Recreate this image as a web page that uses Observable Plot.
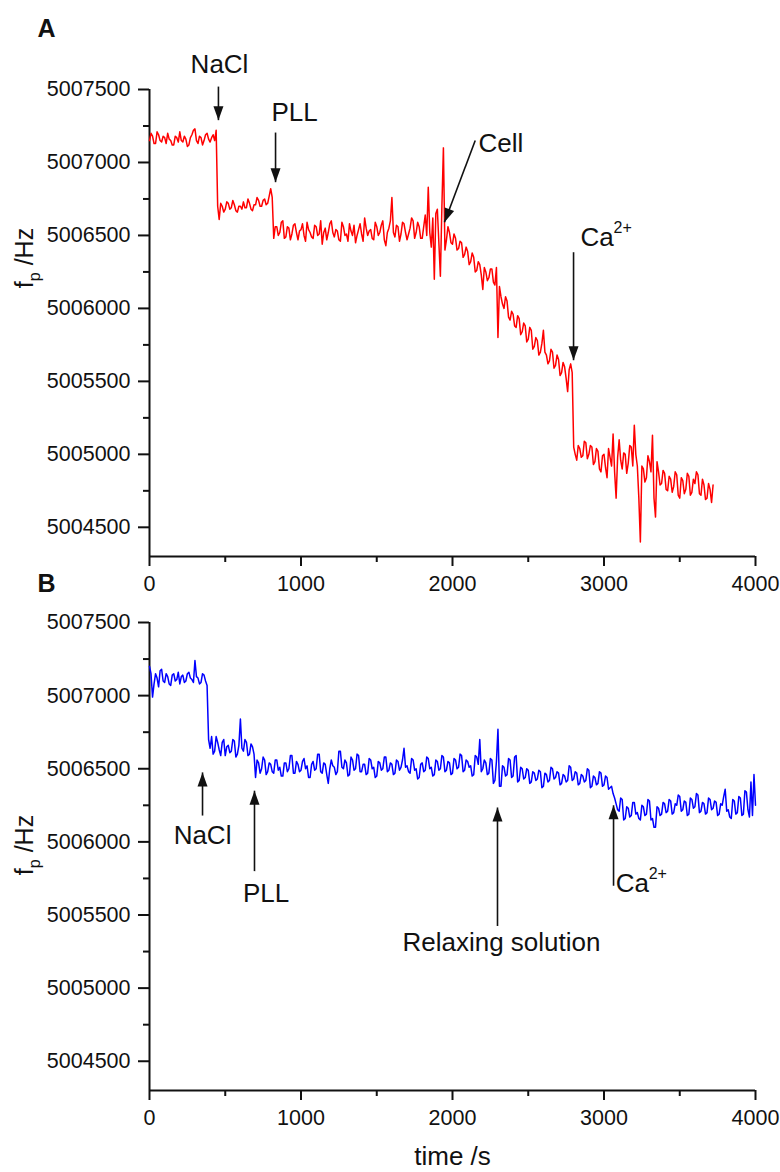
<!DOCTYPE html>
<html>
<head>
<meta charset="utf-8">
<script src="https://cdn.jsdelivr.net/npm/d3@7"></script>
<script src="https://cdn.jsdelivr.net/npm/@observablehq/plot@0.6"></script>
<style>
  body { margin: 0; background: #fff; }
  #chart { width: 780px; }
  #chart svg { display: block; }
</style>
</head>
<body>
<div id="chart"></div>
<script>
// ---------- data ----------
const stepA = 10; // s between samples, panel A (0 … 3720 s)
const stepB = 10; // s between samples, panel B (0 … 4000 s)

const freqA = [
  5007150,5007200,5007180,5007130,5007130,5007210,5007190,5007150,5007140,5007180,5007170,5007130,5007200,5007160,5007150,5007120,5007120,5007180,5007170,5007140,
  5007210,5007150,5007140,5007180,5007160,5007110,5007120,5007170,5007190,5007220,5007230,5007150,5007130,5007180,5007170,5007120,5007150,5007190,5007200,5007160,
  5007140,5007170,5007190,5007150,5007220,5006700,5006610,5006720,5006700,5006660,5006680,5006730,5006720,5006680,5006690,5006740,5006710,5006670,5006660,5006700,
  5006700,5006680,5006730,5006690,5006690,5006750,5006720,5006680,5006670,5006710,5006710,5006760,5006740,5006700,5006700,5006740,5006750,5006710,5006720,5006770,
  5006820,5006760,5006480,5006560,5006560,5006500,5006520,5006590,5006600,5006480,5006490,5006560,5006550,5006470,5006510,5006570,5006580,5006520,5006470,5006530,
  5006540,5006580,5006500,5006460,5006590,5006540,5006520,5006490,5006480,5006570,5006560,5006500,5006510,5006600,5006440,5006520,5006550,5006470,5006520,5006580,
  5006600,5006520,5006490,5006540,5006530,5006470,5006460,5006590,5006560,5006500,5006510,5006460,5006580,5006530,5006500,5006570,5006450,5006500,5006540,5006580,
  5006510,5006460,5006620,5006550,5006500,5006530,5006540,5006480,5006470,5006590,5006560,5006500,5006520,5006570,5006600,5006470,5006430,5006520,5006550,5006600,
  5006760,5006520,5006490,5006570,5006560,5006460,5006510,5006590,5006580,5006520,5006470,5006510,5006550,5006620,5006600,5006480,5006520,5006590,5006560,5006480,
  5006480,5006560,5006640,5006500,5006830,5006520,5006420,5006620,5006200,5006650,5006680,5006450,5006220,5006700,5007100,5006400,5006470,5006560,5006520,5006450,
  5006440,5006510,5006480,5006400,5006410,5006460,5006450,5006350,5006370,5006420,5006390,5006300,5006320,5006380,5006350,5006250,5006260,5006320,5006300,5006230,
  5006130,5006280,5006250,5006190,5006210,5006270,5006270,5006180,5006160,5006280,5005800,5006150,5006080,5006030,5006000,5006080,5006050,5005940,5005920,5005980,
  5005960,5005880,5005870,5005950,5005930,5005820,5005840,5005900,5005880,5005770,5005790,5005870,5005850,5005720,5005740,5005800,5005780,5005680,5005700,5005760,
  5005850,5005700,5005680,5005620,5005640,5005720,5005700,5005590,5005610,5005680,5005650,5005540,5005560,5005630,5005600,5005520,5005430,5005580,5005620,5005560,
  5005050,5005000,5004960,5005060,5005040,5004980,5004990,5005090,5005080,5004970,5005000,5005060,5005050,5004930,5004950,5005040,5005020,5004900,5004880,5004990,
  5005000,5004910,5004840,5005040,5004980,5004920,5005140,5004880,5004700,5004980,5005100,5004960,5004900,5005010,5005000,5004870,5004940,5005060,5005050,5004920,
  5005200,5005000,5004920,5004700,5004400,5004920,5004900,5004810,5004840,5004990,5004950,5004880,5005130,5004700,5004570,5004950,5004880,5004790,5004800,5004890,
  5004870,5004760,5004750,5004850,5004830,5004740,5004780,5004880,5004860,5004720,5004700,5004840,5004820,5004730,5004760,5004870,5004850,5004720,5004740,5004830,
  5004800,5004880,5004860,5004730,5004720,5004830,5004790,5004690,5004700,5004800,5004760,5004670,5004790
];

const freqB = [
  5007200,5007150,5006990,5007080,5007150,5007120,5007060,5007170,5007180,5007100,5007090,5007150,5007130,5007080,5007070,5007140,5007150,5007100,5007110,5007160,
  5007080,5007130,5007140,5007090,5007100,5007150,5007160,5007120,5007110,5007090,5007240,5007130,5007120,5007080,5007090,5007150,5007140,5007100,5007070,5006700,
  5006640,5006720,5006600,5006620,5006720,5006680,5006630,5006590,5006680,5006700,5006590,5006650,5006660,5006610,5006620,5006700,5006690,5006580,5006600,5006660,
  5006840,5006640,5006620,5006700,5006680,5006590,5006600,5006670,5006650,5006600,5006440,5006560,5006540,5006470,5006500,5006580,5006560,5006460,5006480,5006540,
  5006530,5006480,5006470,5006560,5006560,5006490,5006510,5006450,5006450,5006540,5006540,5006480,5006500,5006590,5006590,5006470,5006470,5006550,5006530,5006480,
  5006490,5006550,5006570,5006500,5006520,5006440,5006440,5006530,5006550,5006490,5006500,5006600,5006600,5006480,5006470,5006540,5006530,5006460,5006400,5006500,
  5006560,5006520,5006510,5006460,5006480,5006620,5006620,5006510,5006500,5006560,5006540,5006450,5006460,5006580,5006560,5006490,5006500,5006600,5006590,5006480,
  5006480,5006530,5006530,5006460,5006470,5006570,5006560,5006500,5006510,5006440,5006450,5006550,5006540,5006490,5006500,5006580,5006580,5006480,5006490,5006540,
  5006530,5006460,5006470,5006560,5006550,5006490,5006510,5006560,5006640,5006510,5006520,5006480,5006470,5006570,5006560,5006490,5006500,5006430,5006440,5006530,
  5006540,5006480,5006490,5006580,5006570,5006500,5006510,5006450,5006460,5006560,5006550,5006490,5006500,5006590,5006580,5006480,5006490,5006550,5006540,5006460,
  5006470,5006570,5006560,5006500,5006510,5006600,5006590,5006480,5006490,5006560,5006550,5006510,5006520,5006450,5006460,5006590,5006580,5006530,5006700,5006480,
  5006500,5006560,5006540,5006460,5006470,5006570,5006560,5006400,5006420,5006550,5006770,5006380,5006380,5006520,5006510,5006450,5006460,5006570,5006560,5006440,
  5006450,5006580,5006590,5006410,5006420,5006510,5006500,5006430,5006440,5006500,5006490,5006400,5006410,5006480,5006470,5006420,5006430,5006490,5006480,5006370,
  5006380,5006470,5006460,5006410,5006420,5006510,5006500,5006430,5006440,5006480,5006470,5006390,5006400,5006460,5006450,5006410,5006420,5006520,5006510,5006420,
  5006430,5006480,5006470,5006390,5006400,5006460,5006450,5006410,5006420,5006500,5006490,5006370,5006380,5006450,5006440,5006390,5006400,5006480,5006470,5006380,
  5006390,5006450,5006440,5006360,5006370,5006380,5006330,5006300,5006260,5006220,5006210,5006300,5006290,5006150,5006160,5006240,5006230,5006170,5006180,5006270,
  5006270,5006190,5006200,5006160,5006150,5006250,5006240,5006180,5006190,5006290,5006280,5006150,5006160,5006100,5006100,5006240,5006230,5006180,5006190,5006270,
  5006260,5006200,5006210,5006290,5006280,5006190,5006200,5006260,5006250,5006320,5006310,5006210,5006220,5006280,5006270,5006180,5006190,5006300,5006290,5006230,
  5006240,5006330,5006320,5006200,5006210,5006270,5006260,5006190,5006200,5006300,5006290,5006220,5006230,5006280,5006270,5006180,5006190,5006260,5006250,5006310,
  5006360,5006210,5006220,5006170,5006160,5006290,5006280,5006190,5006200,5006310,5006300,5006180,5006190,5006350,5006340,5006220,5006170,5006410,5006180,5006460,
  5006250
];

const xDomain = [0, 4000];
const yDomain = [5004300, 5007500];
const xTicks = [0, 1000, 2000, 3000, 4000];
const xMinorTicks = [500, 1500, 2500, 3500];
const yTicks = [5004500, 5005000, 5005500, 5006000, 5006500, 5007000, 5007500];
const yMinorTicks = [5004750, 5005250, 5005750, 5006250, 5006750, 5007250];

const panelLabels = ["A", "B"];
const xTitle = "time /s";

// annotation arrows: from (t0,f0) to the tip (t1,f1)
const arrowsA = [
  {t0: 455, f0: 5007520, t1: 455, f1: 5007290},
  {t0: 832, f0: 5007205, t1: 832, f1: 5006865},
  {t0: 2150, f0: 5007150, t1: 1947, f1: 5006590},
  {t0: 2799, f0: 5006385, t1: 2799, f1: 5005645}
];
const labelsA = [
  {text: "NaCl", t: 462, f: 5007671, anchor: "middle"},
  {text: "PLL", t: 958, f: 5007342, anchor: "middle"},
  {text: "Cell", t: 2172, f: 5007130, anchor: "start"},
  {text: "Ca", t: 2845, f: 5006486, anchor: "start", sup: "2+"}
];

const arrowsB = [
  {t0: 350, f0: 5006180, t1: 350, f1: 5006475},
  {t0: 693, f0: 5005800, t1: 693, f1: 5006350},
  {t0: 2297, f0: 5005425, t1: 2297, f1: 5006235},
  {t0: 3063, f0: 5005700, t1: 3063, f1: 5006250}
];
const labelsB = [
  {text: "NaCl", t: 350, f: 5006040, anchor: "middle"},
  {text: "PLL", t: 770, f: 5005645, anchor: "middle"},
  {text: "Relaxing solution", t: 2323, f: 5005308, anchor: "middle"},
  {text: "Ca", t: 3077, f: 5005715, anchor: "start", sup: "2+"}
];

// ---------- rendering ----------
const fontFamily = '"Liberation Sans", Arial, Helvetica, sans-serif';
const ink = "#111";
const W = 780;

const dataA = freqA.map((f, i) => ({t: i * stepA, f}));
const dataB = freqB.map((f, i) => ({t: i * stepB, f}));

function headSymbol(dx, dy) {
  const len = Math.hypot(dx, dy) || 1;
  const ux = dx / len, uy = dy / len;
  const L = 14, H = 5;
  return {
    draw(ctx) {
      ctx.moveTo(0, 0);
      ctx.lineTo(-ux * L - uy * H, -uy * L + ux * H);
      ctx.lineTo(-ux * L + uy * H, -uy * L - ux * H);
      ctx.closePath();
    }
  };
}

function buildPanel({data, color, arrows, labels, height, marginTop, marginBottom, extra}) {
  const base = {
    width: W,
    height,
    marginLeft: 149,
    marginRight: 25,
    marginTop,
    marginBottom,
    style: {fontFamily, fontSize: "21.5px", color: ink, background: "transparent", overflow: "visible"},
    x: {domain: xDomain, label: null},
    y: {domain: yDomain, label: null}
  };
  const probe = Plot.plot({...base, marks: []});
  const sx = probe.scale("x"), sy = probe.scale("y");

  const marks = [
    Plot.axisY({ticks: yTicks, tickSize: 11, tickPadding: 8, tickFormat: d3.format("d"), strokeWidth: 2, label: null, fill: ink}),
    Plot.axisY({ticks: yMinorTicks, tickSize: 6, tickFormat: () => "", strokeWidth: 2, label: null}),
    Plot.axisX({ticks: xTicks, tickSize: 10, tickPadding: 9, tickFormat: d3.format("d"), strokeWidth: 2, label: null, fill: ink}),
    Plot.axisX({ticks: xMinorTicks, tickSize: 6, tickFormat: () => "", strokeWidth: 2, label: null}),
    Plot.ruleX([xDomain[0]], {stroke: ink, strokeWidth: 2}),
    Plot.ruleY([yDomain[0]], {stroke: ink, strokeWidth: 2}),
    Plot.line(data, {x: "t", y: "f", stroke: color, strokeWidth: 1.5}),
    Plot.link(arrows, {x1: "t0", y1: "f0", x2: "t1", y2: "f1", stroke: ink, strokeWidth: 1.6})
  ];
  for (const a of arrows) {
    const dx = sx.apply(a.t1) - sx.apply(a.t0);
    const dy = sy.apply(a.f1) - sy.apply(a.f0);
    marks.push(Plot.dot([a], {x: "t1", y: "f1", r: 6, symbol: headSymbol(dx, dy), fill: ink, stroke: "none"}));
  }
  for (const anchor of ["middle", "start"]) {
    marks.push(Plot.text(labels.filter(d => d.anchor === anchor), {
      x: "t", y: "f", text: "text", textAnchor: anchor, lineAnchor: "middle",
      fontSize: 26, fill: ink
    }));
  }
  marks.push(Plot.text(labels.filter(d => d.sup), {
    x: "t", y: "f", text: "sup", textAnchor: "start", lineAnchor: "middle",
    fontSize: 16, dx: 33, dy: -10, fill: ink
  }));
  marks.push(...extra);
  return Plot.plot({...base, marks});
}

function addYLabel(svg, cx, cy) {
  const t = d3.select(svg).append("text")
    .attr("transform", `translate(${cx},${cy}) rotate(-90)`)
    .attr("text-anchor", "middle")
    .attr("font-family", fontFamily)
    .attr("font-size", 25)
    .attr("fill", ink);
  t.append("tspan").text("f");
  t.append("tspan").attr("font-size", 16).attr("dy", 7).text("p");
  t.append("tspan").attr("dy", -7).text(" /Hz");
}

const svgA = buildPanel({
  data: dataA, color: "#ff0000", arrows: arrowsA, labels: labelsA,
  height: 600, marginTop: 89, marginBottom: 44,
  extra: [
    Plot.text([panelLabels[0]], {frameAnchor: "top-left", text: d => d, dx: -112, dy: -61, textAnchor: "start", lineAnchor: "middle", fontSize: 25, fontWeight: "bold", fill: ink}),
    Plot.text([panelLabels[1]], {frameAnchor: "bottom-left", text: d => d, dx: -112, dy: 27, textAnchor: "start", lineAnchor: "middle", fontSize: 25, fontWeight: "bold", fill: ink})
  ]
});
addYLabel(svgA, 33, 258);

const svgB = buildPanel({
  data: dataB, color: "#0000ff", arrows: arrowsB, labels: labelsB,
  height: 572, marginTop: 22, marginBottom: 82,
  extra: [
    Plot.text([xTitle], {frameAnchor: "bottom", text: d => d, dy: 66, lineAnchor: "middle", fontSize: 26, fill: ink})
  ]
});
addYLabel(svgB, 33, 245);

document.getElementById("chart").append(svgA, svgB);
</script>
</body>
</html>
